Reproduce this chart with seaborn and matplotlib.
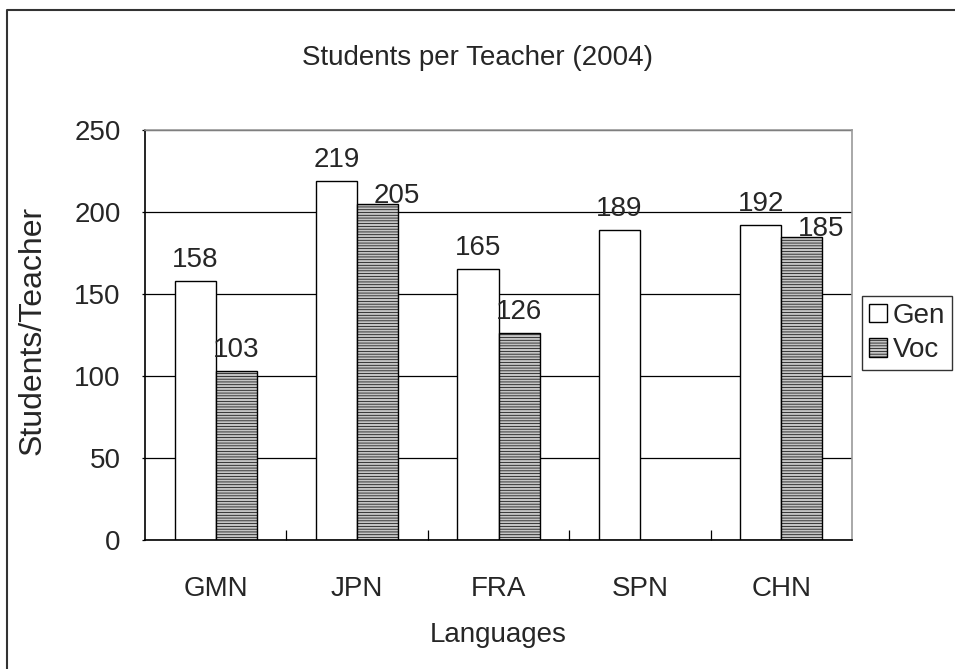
import pandas as pd
import matplotlib.pyplot as plt
import seaborn as sns
from matplotlib.ticker import MultipleLocator, FixedLocator
from matplotlib.lines import Line2D

# ==========================================
# DADOS
# ==========================================
idiomas = ["GMN", "JPN", "FRA", "SPN", "CHN"]
gen = [158, 219, 165, 189, 192]
voc = [103, 205, 126, None, 185]
series = ["Gen", "Voc"]

titulo = "Students per Teacher (2004)"
xlabel = "Languages"
ylabel = "Students/Teacher"

df = pd.DataFrame({
    "Lang": idiomas * 2,
    "Tipo": ["Gen"] * len(idiomas) + ["Voc"] * len(idiomas),
    "Valor": gen + voc,
}).dropna()

# ==========================================
# ESTILO
# ==========================================
sns.set_theme(style="white")
plt.rcParams["font.family"] = ["Liberation Sans", "DejaVu Sans"]
plt.rcParams["hatch.linewidth"] = 0.5

cor_voc = "#c4c4c4"

fig = plt.figure(figsize=(9.55, 6.69), dpi=100)
ax = fig.add_axes([145 / 955, 1 - 540 / 669, (852 - 145) / 955, (540 - 130) / 669])

sns.barplot(data=df, x="Lang", y="Valor", hue="Tipo", order=idiomas, hue_order=series,
            palette={"Gen": "white", "Voc": cor_voc}, edgecolor="black", linewidth=1,
            width=0.58, errorbar=None, legend=False, ax=ax)

for barra in ax.containers[1]:
    barra.set_hatch("------")

# rótulos de valor acima das barras
for i, cont in enumerate(ax.containers):
    anns = ax.bar_label(cont, fmt="%d", padding=6, fontsize=20)
    if i == 1:
        # Excel empurra o rótulo Voc para a direita quando encosta no Gen
        vals_voc = [v for v in voc if v is not None]
        vals_gen = [g for g, v in zip(gen, voc) if v is not None]
        for a, g, v in zip(anns, vals_gen, vals_voc):
            if g - v < 20:
                a.xyann = (14, -4)

# eixos
ax.set_ylim(0, 250)
ax.set_xlim(-0.5, len(idiomas) - 0.5)
ax.yaxis.set_major_locator(MultipleLocator(50))
ax.grid(axis="y", color="black", linewidth=0.9)
ax.set_axisbelow(True)
ax.tick_params(axis="y", which="major", direction="out", length=2.5, width=0.9,
               labelsize=20, pad=15, color="black", left=True)
ax.tick_params(axis="x", which="major", length=0, labelsize=20, pad=26)
ax.xaxis.set_minor_locator(FixedLocator([i + 0.5 for i in range(len(idiomas) - 1)]))
ax.tick_params(axis="x", which="minor", direction="in", length=7, width=0.9,
               color="black", bottom=True)

for lado in ["left", "bottom"]:
    ax.spines[lado].set_color("black")
    ax.spines[lado].set_linewidth(1.2)
for lado in ["top", "right"]:
    ax.spines[lado].set_color("#999999")
    ax.spines[lado].set_linewidth(1.2)

ax.set_xlabel(xlabel, fontsize=20, labelpad=14)
ax.set_ylabel(ylabel, fontsize=23)
ax.yaxis.set_label_coords((48 - 145) / 707, 0.51)
fig.text(0.5, 1 - 58 / 669, titulo, fontsize=20, ha="center", va="center")

# legenda
handles = [plt.Rectangle((0, 0), 1, 1, facecolor="white", edgecolor="black", linewidth=1),
           plt.Rectangle((0, 0), 1, 1, facecolor=cor_voc, edgecolor="black", linewidth=1,
                         hatch="------")]
leg = fig.legend(handles, series, loc="upper left", bbox_to_anchor=(862 / 955, 1 - 296 / 669),
                 fontsize=20, frameon=True, fancybox=False, handlelength=0.65, handleheight=0.65,
                 handletextpad=0.2, borderpad=0.25, labelspacing=0.3, borderaxespad=0)
leg.get_frame().set_edgecolor("black")
leg.get_frame().set_linewidth(1)

# moldura externa (cortada à direita e embaixo, como no original)
fig.add_artist(Line2D([7 / 955, 7 / 955, 1.0], [0.0, 1 - 10 / 669, 1 - 10 / 669],
                      transform=fig.transFigure, color="#333333", linewidth=1.5))

fig.savefig("out.png", dpi=100)
